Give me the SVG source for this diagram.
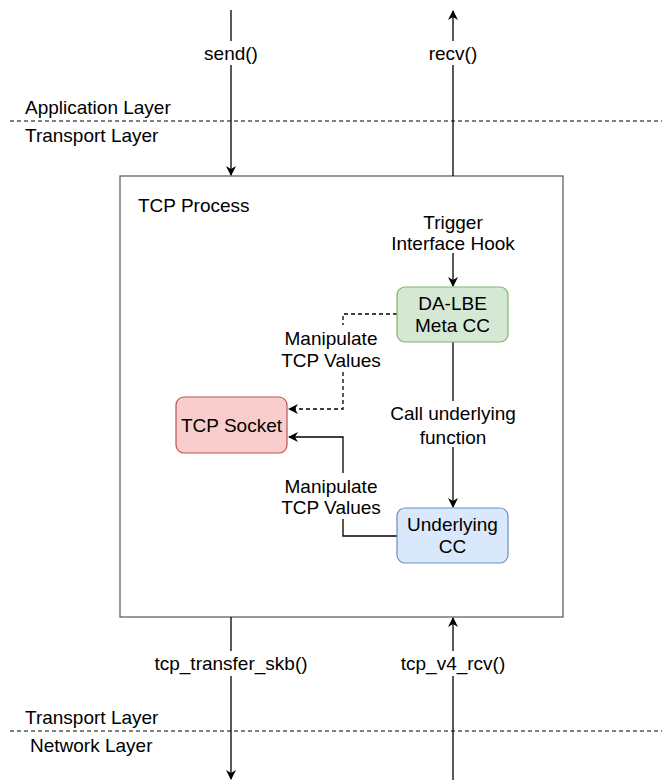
<svg xmlns="http://www.w3.org/2000/svg" width="662" height="780" viewBox="0 0 662 780">
  <style>
    text { font-family: "Liberation Sans", Arial, sans-serif; font-size: 19px; fill: #000; }
    .c { text-anchor: middle; }
    .edge { fill: none; stroke: #000; stroke-width: 1.3; }
    .dash { stroke-dasharray: 4 3; }
    .layer { fill: none; stroke: #000; stroke-width: 1; stroke-dasharray: 4 3; }
    .lbl { fill: #fff; }
  </style>
  <defs>
    <marker id="arrow" viewBox="0 0 10 10" refX="9" refY="5" markerWidth="10" markerHeight="10" markerUnits="userSpaceOnUse" orient="auto">
      <path d="M0,0 L10,5 L0,10 L3,5 Z" fill="#000"/>
    </marker>
  </defs>
  <rect width="662" height="780" fill="#fff"/>

  <!-- layer boundaries -->
  <g id="layers">
    <line class="layer" x1="10" y1="121" x2="662" y2="121"/>
    <text x="25" y="114">Application Layer</text>
    <text x="25" y="142">Transport Layer</text>
    <line class="layer" x1="10" y1="731" x2="662" y2="731"/>
    <text x="25" y="724">Transport Layer</text>
    <text x="30" y="752">Network Layer</text>
  </g>

  <!-- process container -->
  <g id="tcp-process">
    <rect x="120" y="176" width="443" height="441" fill="#fff" stroke="#555" stroke-width="1.2"/>
    <text x="138" y="212">TCP Process</text>
  </g>

  <g id="connectors">
    <path class="edge" d="M231,10 V175" marker-end="url(#arrow)"/>
    <path class="edge" d="M453,176 V11" marker-end="url(#arrow)"/>
    <path class="edge" d="M231,617 V779" marker-end="url(#arrow)"/>
    <path class="edge" d="M453,780 V618" marker-end="url(#arrow)"/>
    <path class="edge" d="M453,253 V286" marker-end="url(#arrow)"/>
    <path class="edge" d="M453,342 V507" marker-end="url(#arrow)"/>
    <path class="edge dash" d="M397,314 H343 V409 H289" marker-end="url(#arrow)"/>
    <path class="edge" d="M397,536 H343 V437 H289" marker-end="url(#arrow)"/>
  </g>

  <g id="labels">
    <rect class="lbl" x="198" y="41" width="66" height="24"/>
    <text class="c" x="231" y="60">send()</text>
    <rect class="lbl" x="421" y="41" width="64" height="24"/>
    <text class="c" x="453" y="60">recv()</text>
    <rect class="lbl" x="150" y="651" width="162" height="25"/>
    <text class="c" x="231" y="670">tcp_transfer_skb()</text>
    <rect class="lbl" x="396" y="651" width="114" height="25"/>
    <text class="c" x="453" y="670">tcp_v4_rcv()</text>
    <text class="c" x="453" y="229">Trigger</text>
    <text class="c" x="453" y="250">Interface Hook</text>
    <rect class="lbl" x="277" y="325" width="108" height="46"/>
    <text class="c" x="331" y="345">Manipulate</text>
    <text class="c" x="331" y="367">TCP Values</text>
    <rect class="lbl" x="277" y="473" width="108" height="46"/>
    <text class="c" x="331" y="493">Manipulate</text>
    <text class="c" x="331" y="514">TCP Values</text>
    <rect class="lbl" x="385" y="401" width="136" height="46"/>
    <text class="c" x="453" y="420">Call underlying</text>
    <text class="c" x="453" y="444">function</text>
  </g>

  <g id="da-lbe-meta-cc">
    <rect x="397" y="287" width="111" height="55" rx="8" fill="#d5e8d4" stroke="#82b366" stroke-width="1.2"/>
    <text class="c" x="452.5" y="310">DA-LBE</text>
    <text class="c" x="452.5" y="332">Meta CC</text>
  </g>

  <g id="tcp-socket">
    <rect x="176" y="397" width="111" height="56" rx="8" fill="#f8cecc" stroke="#b85450" stroke-width="1.2"/>
    <text class="c" x="231.5" y="432">TCP Socket</text>
  </g>

  <g id="underlying-cc">
    <rect x="397" y="508" width="111" height="55" rx="8" fill="#dae8fc" stroke="#6c8ebf" stroke-width="1.2"/>
    <text class="c" x="452.5" y="531">Underlying</text>
    <text class="c" x="452.5" y="553">CC</text>
  </g>
</svg>
